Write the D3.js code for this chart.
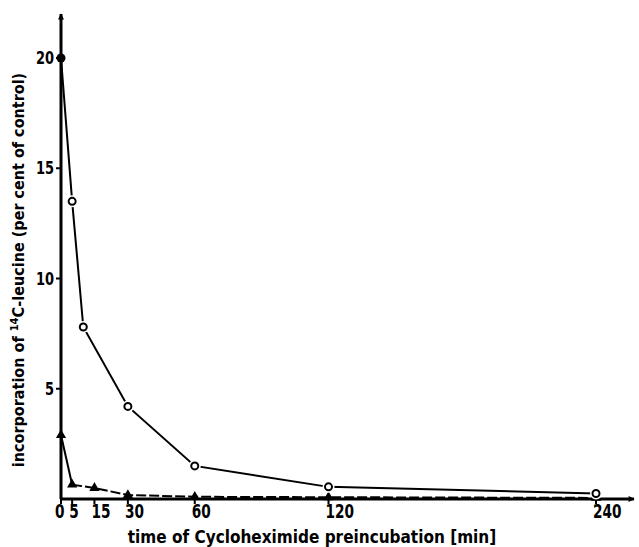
<!DOCTYPE html>
<html>
<head>
<meta charset="utf-8">
<script src="https://cdn.jsdelivr.net/npm/d3@7"></script>
<style>
  body { margin: 0; background: #fff; }
  text { font-family: "DejaVu Sans Condensed", "Liberation Sans Narrow", "DejaVu Sans", sans-serif; font-weight: bold; fill: #000; }
</style>
</head>
<body>
<div id="my_dataviz"></div>
<script>
// Chart size
const width = 639;
const height = 547;

// Preincubation times (min) and the two series
const circleTimes = [0, 5, 10, 30, 60, 120, 240];
const circleValues = [20, 13.5, 7.8, 4.2, 1.5, 0.55, 0.25];

const triangleTimes = [0, 0, 5, 15, 30, 60, 120, 240];
const triangleValues = [20, 2.9, 0.65, 0.5, 0.18, 0.1, 0.08, 0.05];

// Axis ticks
const xTicks = [0, 5, 15, 30, 60, 120, 240];
const yTicks = [5, 10, 15, 20];

const svg = d3.select("#my_dataviz")
    .append("svg")
    .attr("width", width)
    .attr("height", height);

// Scales
const x = d3.scaleLinear().domain([0, 240]).range([61, 596]);
const y = d3.scaleLinear().domain([0, 20]).range([499, 58]);

const circleData = circleTimes.map((t, i) => ({ t: t, v: circleValues[i] }));
const triangleData = triangleTimes.map((t, i) => ({ t: t, v: triangleValues[i] }));

// Arrowhead for the axes
svg.append("defs").append("marker")
    .attr("id", "arrow")
    .attr("viewBox", "0 0 10 10")
    .attr("refX", 9)
    .attr("refY", 5)
    .attr("markerWidth", 14)
    .attr("markerHeight", 6)
    .attr("markerUnits", "userSpaceOnUse")
    .attr("orient", "auto")
    .append("path")
    .attr("d", "M0,0 L10,5 L0,10 Z")
    .attr("fill", "#000");

// Axes lines
svg.append("line")
    .attr("x1", x(0)).attr("y1", y(0))
    .attr("x2", 634).attr("y2", y(0))
    .attr("stroke", "#000").attr("stroke-width", 3)
    .attr("marker-end", "url(#arrow)");

svg.append("line")
    .attr("x1", x(0)).attr("y1", y(0))
    .attr("x2", x(0)).attr("y2", 14)
    .attr("stroke", "#000").attr("stroke-width", 3)
    .attr("marker-end", "url(#arrow)");

// X ticks and labels (narrow, tall digits like the original lettering)
const xt = svg.selectAll(".xtick")
    .data(xTicks)
    .join("g")
    .attr("class", "xtick")
    .attr("transform", d => `translate(${x(d)},${y(0)})`);

xt.append("line")
    .attr("y1", 0).attr("y2", 5)
    .attr("stroke", "#000").attr("stroke-width", 2);

xt.append("text")
    .attr("transform", d => `translate(${d === 0 ? -6 : -3},19) scale(0.8,1)`)
    .attr("font-size", 19)
    .text(d => d);

// Y ticks and labels
const yt = svg.selectAll(".ytick")
    .data(yTicks)
    .join("g")
    .attr("class", "ytick")
    .attr("transform", d => `translate(${x(0)},${y(d)})`);

yt.append("line")
    .attr("x1", -5).attr("x2", 0)
    .attr("stroke", "#000").attr("stroke-width", 2);

yt.append("text")
    .attr("transform", "translate(-7,6) scale(0.85,1)")
    .attr("text-anchor", "end")
    .attr("font-size", 17)
    .text(d => d);

// Lines
const line = d3.line()
    .x(d => x(d.t))
    .y(d => y(d.v));

// Triangle series: solid drop at 0-5 min, dashed after
svg.append("path")
    .datum(triangleData.slice(0, 3))
    .attr("d", line)
    .attr("fill", "none")
    .attr("stroke", "#000")
    .attr("stroke-width", 2);

svg.append("path")
    .datum(triangleData.slice(2))
    .attr("d", line)
    .attr("fill", "none")
    .attr("stroke", "#000")
    .attr("stroke-width", 2)
    .attr("stroke-dasharray", "10,3");

svg.append("path")
    .datum(circleData)
    .attr("d", line)
    .attr("fill", "none")
    .attr("stroke", "#000")
    .attr("stroke-width", 2);

// Triangle markers
svg.selectAll(".tri")
    .data(triangleData.slice(1))
    .join("path")
    .attr("class", "tri")
    .attr("transform", d => `translate(${x(d.t)},${y(d.v)})`)
    .attr("d", d3.symbol().type(d3.symbolTriangle).size(45))
    .attr("fill", "#000");

// Open circle markers (white halo makes the gap in the line)
svg.selectAll(".halo")
    .data(circleData.slice(1))
    .join("circle")
    .attr("class", "halo")
    .attr("cx", d => x(d.t))
    .attr("cy", d => y(d.v))
    .attr("r", 6)
    .attr("fill", "#fff");

svg.selectAll(".circ")
    .data(circleData.slice(1))
    .join("circle")
    .attr("class", "circ")
    .attr("cx", d => x(d.t))
    .attr("cy", d => y(d.v))
    .attr("r", 3.5)
    .attr("fill", "#fff")
    .attr("stroke", "#000")
    .attr("stroke-width", 2);

// Filled start point at 20
svg.append("circle")
    .attr("cx", x(circleData[0].t))
    .attr("cy", y(circleData[0].v))
    .attr("r", 4.5)
    .attr("fill", "#000");

// Axis titles
svg.append("text")
    .attr("x", 312)
    .attr("y", 543)
    .attr("text-anchor", "middle")
    .attr("font-size", 17)
    .text("time of Cycloheximide preincubation [min]");

const yTitle = svg.append("text")
    .attr("transform", "translate(24,270) rotate(-90)")
    .attr("text-anchor", "middle")
    .attr("font-size", 16)
    .text("incorporation of ");

yTitle.append("tspan")
    .attr("font-size", 11)
    .attr("dy", -6)
    .text("14");

yTitle.append("tspan")
    .attr("dy", 6)
    .text("C-leucine (per cent of control)");
</script>
</body>
</html>
